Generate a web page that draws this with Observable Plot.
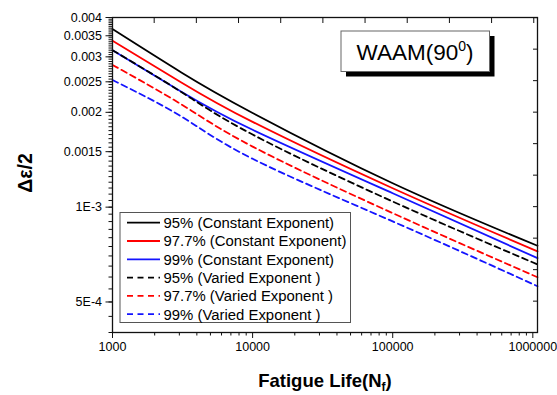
<!DOCTYPE html>
<html><head><meta charset="utf-8">
<script src="https://cdn.jsdelivr.net/npm/d3@7"></script>
<script src="https://cdn.jsdelivr.net/npm/@observablehq/plot@0.6"></script>
<style>body{margin:0;background:#fff;} #chart{width:557px;height:395px;}</style>
</head><body><div id="chart"></div>
<script>
// ---- data ----
const cycles = [1000, 3100, 10000, 100000, 1080000];
const seriesNames = [
  "95% (Constant Exponent)",
  "97.7% (Constant Exponent)",
  "99% (Constant Exponent)",
  "95% (Varied Exponent )",
  "97.7% (Varied Exponent )",
  "99% (Varied Exponent )"
];
const const95 = [0.003675, 0.002677, 0.001991, 0.001191, 0.000754];
const const977 = [0.003375, 0.002489, 0.001865, 0.001148, 0.000724];
const const99 = [0.00315, 0.002326, 0.00176, 0.001107, 0.000689];
const varied95 = [0.00315, 0.00232, 0.0017, 0.001042, 0.000658];
const varied977 = [0.002828, 0.00212, 0.001557, 0.000957, 0.000599];
const varied99 = [0.002533, 0.00194, 0.001424, 0.000901, 0.000561];
const seriesValues = [const95, const977, const99, varied95, varied977, varied99];
const seriesColors = ["#000000", "#ff0000", "#1414ff", "#000000", "#ff0000", "#1414ff"];
const seriesDashed = [false, false, false, true, true, true];

const xMajorTicks = [1000, 10000, 100000, 1000000];
const xTickLabels = ["1000", "10000", "100000", "1000000"];
const yMajorTicks = [0.0005, 0.001, 0.0015, 0.002, 0.0025, 0.003, 0.0035, 0.004];
const yTickLabels = ["5E-4", "1E-3", "0.0015", "0.002", "0.0025", "0.003", "0.0035", "0.004"];
const xMinorTicks = [1000, 10000, 100000].flatMap(d => d3.range(2, 10).map(k => k * d));
const yMinorTicks = d3.range(8, 81).map(k => +(k * 0.00005).toFixed(6));
const topTicks = d3.range(1, 11).map(k => 1000 * 2 ** k);
const rightTicks = d3.range(-33, -23).map(k => 10 ** (k / 10));

const rows = seriesValues.flatMap((vals, i) => vals.map((v, j) => ({series: i, N: cycles[j], strain: v})));

const font = "'Liberation Sans', Arial, sans-serif";
const plot = Plot.plot({
  width: 557, height: 395,
  marginLeft: 112, marginRight: 20, marginTop: 17, marginBottom: 63,
  style: {fontFamily: font, fontSize: "12.5px", color: "#000", background: "#fff", overflow: "visible"},
  x: {type: "log", domain: [1000, 1080000], label: null},
  y: {type: "log", domain: [0.0004, 0.004], label: null},
  marks: [
    ...seriesValues.map((_, i) => Plot.line(rows.filter(r => r.series === i), {
      x: "N", y: "strain", stroke: seriesColors[i], strokeWidth: 1.8,
      strokeDasharray: seriesDashed[i] ? "6,4" : null, curve: "natural"
    })),
    Plot.frame({stroke: "#111", strokeWidth: 1.3}),
    Plot.axisX({ticks: xMinorTicks, tickSize: 3.5, tickFormat: () => "", label: null, stroke: "#111"}),
    Plot.axisX({ticks: xMajorTicks, tickSize: 6, tickPadding: 4, tickFormat: d => xTickLabels[xMajorTicks.indexOf(d)], label: null, stroke: "#111", fontSize: 12.5}),
    Plot.axisY({ticks: yMinorTicks, tickSize: 3.5, tickFormat: () => "", label: null, stroke: "#111"}),
    Plot.axisY({ticks: yMajorTicks, tickSize: 6.5, tickPadding: 4, tickFormat: d => yTickLabels[yMajorTicks.indexOf(d)], label: null, stroke: "#111", fontSize: 12.5})
  ]
});
document.getElementById("chart").appendChild(plot);

const sx = plot.scale("x"), sy = plot.scale("y");
const svg = d3.select(plot);
const x1 = sx.range[1];
const yTop = Math.min(...sy.range);

// inward ticks on top and right frame edges
const g = svg.append("g").attr("stroke", "#111").attr("stroke-width", 1);
topTicks.filter(t => sx.apply(t) < x1 - 1).forEach(t => {
  const px = sx.apply(t);
  g.append("line").attr("x1", px).attr("x2", px).attr("y1", yTop).attr("y2", yTop + 6);
});
rightTicks.forEach(t => {
  const py = sy.apply(t);
  g.append("line").attr("x1", x1 - 4).attr("x2", x1).attr("y1", py).attr("y2", py);
});

// axis titles
svg.append("text").attr("x", 325).attr("y", 387).attr("text-anchor", "middle")
  .attr("font-family", font).attr("font-size", 18.5).attr("font-weight", "bold")
  .call(t => { t.append("tspan").text("Fatigue Life(N");
    t.append("tspan").attr("font-size", 12).attr("dy", 4).text("f");
    t.append("tspan").attr("dy", -4).text(")"); });
svg.append("text").attr("transform", "translate(32,173) rotate(-90)").attr("text-anchor", "middle")
  .attr("font-family", font).attr("font-size", 19.5).attr("font-weight", "bold").text("Δε/2");

// title box with shadow
const tb = svg.append("g");
tb.append("rect").attr("x", 346).attr("y", 36).attr("width", 148.5).attr("height", 40.5).attr("fill", "#000");
tb.append("rect").attr("x", 341).attr("y", 31).attr("width", 148.5).attr("height", 40.5).attr("fill", "#fff").attr("stroke", "#666").attr("stroke-width", 1);
tb.append("text").attr("x", 415).attr("y", 59.5).attr("text-anchor", "middle")
  .attr("font-family", font).attr("font-size", 22.5)
  .call(t => { t.append("tspan").text("WAAM(90");
    t.append("tspan").attr("font-size", 14).attr("dy", -9).text("0");
    t.append("tspan").attr("dy", 9).text(")"); });

// legend
const lg = svg.append("g").attr("text-anchor", "start");
lg.append("rect").attr("x", 120).attr("y", 212.5).attr("width", 230.5).attr("height", 110).attr("fill", "#fff").attr("stroke", "#555").attr("stroke-width", 1);
seriesNames.forEach((name, i) => {
  const cy = 222.7 + i * 18.3;
  lg.append("line").attr("x1", 127).attr("x2", 160).attr("y1", cy).attr("y2", cy)
    .attr("stroke", seriesColors[i]).attr("stroke-width", 1.8)
    .attr("stroke-dasharray", seriesDashed[i] ? "6,4.5" : null);
  lg.append("text").attr("x", 163.5).attr("y", cy).attr("dy", "0.36em").attr("text-anchor", "start")
    .attr("font-family", font).attr("font-size", 14.9).text(name);
});
</script>
</body></html>
